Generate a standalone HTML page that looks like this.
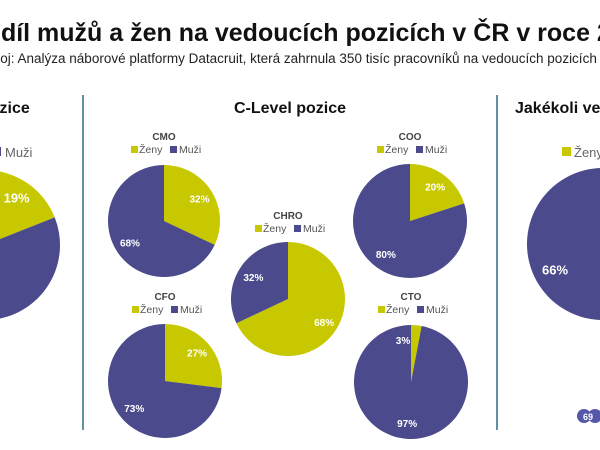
<!DOCTYPE html>
<html><head><meta charset="utf-8">
<style>
html,body{margin:0;padding:0;background:#fff;}
svg{display:block;font-family:"Liberation Sans",sans-serif;}
</style></head>
<body>
<svg id="chart" width="600" height="450" viewBox="0 0 600 450">
  <text x="-31" y="41" font-size="25" font-weight="bold" fill="#111">Podíl mužů a žen na vedoucích pozicích v ČR v roce 2023</text>
  <text x="-20" y="63" font-size="13.5" fill="#222">Zdroj: Analýza náborové platformy Datacruit, která zahrnula 350 tisíc pracovníků na vedoucích pozicích</text>
  <line x1="83" y1="95" x2="83" y2="430" stroke="#2d6b86" stroke-width="1.5"/>
  <line x1="497" y1="95" x2="497" y2="430" stroke="#2d6b86" stroke-width="1.5"/>
  <text x="-20" y="113" font-size="16" font-weight="bold" fill="#111">pozice</text>
  <text x="290" y="113" font-size="16" font-weight="bold" fill="#111" text-anchor="middle">C-Level pozice</text>
  <text x="515" y="113" font-size="16" font-weight="bold" fill="#111">Jakékoli vedoucí pozice</text>
  <g id="pies"></g>
  <g>
    <circle cx="584" cy="416" r="7" fill="#5557a8"/>
    <circle cx="595" cy="416" r="7" fill="#5557a8"/>
    <text x="583" y="420" font-size="9" fill="#fff" font-weight="bold">69</text>
  </g>
</svg>
<script>
const pieNames = ["left","CMO","COO","CHRO","CFO","CTO","right"];
const zenyValues = [19,32,20,68,27,3,34];
const muziValues = [81,68,80,32,73,97,66];
const pieCx = [-15,164,410,288,165,411,603];
const pieCy = [245,221,221,299,381,382,244];
const pieR = [75,56,57,57,57,57,76];
const titleY = [0,136,136,215,296,296,0];
const showZenyLabel=[true,true,true,true,true,true,false];
const showMuziLabel=[false,true,true,true,true,true,true];
const YEL="#c8c800", NAV="#4b4a8c";
const NS="http://www.w3.org/2000/svg";
const g=document.getElementById('pies');
function mk(tag,attrs,parent){const e=document.createElementNS(NS,tag);for(const k in attrs)e.setAttribute(k,attrs[k]);(parent||g).appendChild(e);return e;}
function pt(cx,cy,r,frac){const a=frac*2*Math.PI;return [cx+r*Math.sin(a),cy-r*Math.cos(a)];}
function slice(cx,cy,r,f0,f1,fill){
  const p0=pt(cx,cy,r,f0),p1=pt(cx,cy,r,f1);const large=(f1-f0)>0.5?1:0;
  return mk('path',{d:`M${cx},${cy} L${p0[0]},${p0[1]} A${r},${r} 0 ${large} 1 ${p1[0]},${p1[1]} Z`,fill:fill});
}
pieNames.forEach((n,i)=>{
  const cx=pieCx[i],cy=pieCy[i],r=pieR[i];
  const tot=zenyValues[i]+muziValues[i];
  const fz=zenyValues[i]/tot;
  const s1=slice(cx,cy,r,0,fz,YEL);
  
  
  const s2=slice(cx,cy,r,fz,1,NAV);
  
  
  const fs=r>70?13:10;
  if(showZenyLabel[i]){
    let p=pt(cx,cy,r*0.75,fz/2);
    if(fz<0.06){p=[cx-8,cy-42];}
    const t=mk('text',{x:p[0],y:p[1]+4,'font-size':fs,'font-weight':'bold',fill:'#fff','text-anchor':'middle'});
    t.textContent=zenyValues[i]+'%';
    
    
  }
  if(showMuziLabel[i]){
    const p=pt(cx,cy,r*0.72,fz+(1-fz)/2);
    const t=mk('text',{x:p[0],y:p[1]+4,'font-size':fs,'font-weight':'bold',fill:'#fff','text-anchor':'middle'});
    t.textContent=muziValues[i]+'%';
    
    
  }
  if(titleY[i]>0){
    const t=mk('text',{x:cx,y:titleY[i]+4,'font-size':10,'font-weight':'bold',fill:'#444','text-anchor':'middle'});
    t.textContent=n;
    
    
    const ly=titleY[i]+17;
    const lg=mk('g',{});
    
    
    mk('rect',{x:cx-33,y:ly-7,width:7,height:7,fill:YEL},lg);
    const a=mk('text',{x:cx-25,y:ly,'font-size':10.5,fill:'#555'},lg);a.textContent='Ženy';
    mk('rect',{x:cx+6,y:ly-7,width:7,height:7,fill:NAV},lg);
    const b=mk('text',{x:cx+15,y:ly,'font-size':10.5,fill:'#555'},lg);b.textContent='Muži';
  }
});
const l1=mk('text',{x:5,y:157,'font-size':13,fill:'#666'});l1.textContent='Muži';


mk('rect',{x:-8,y:147,width:9,height:9,fill:NAV});
mk('rect',{x:562,y:147,width:9,height:9,fill:YEL});
const l2=mk('text',{x:574,y:157,'font-size':13,fill:'#666'});l2.textContent='Ženy';


</script>
</body></html>
